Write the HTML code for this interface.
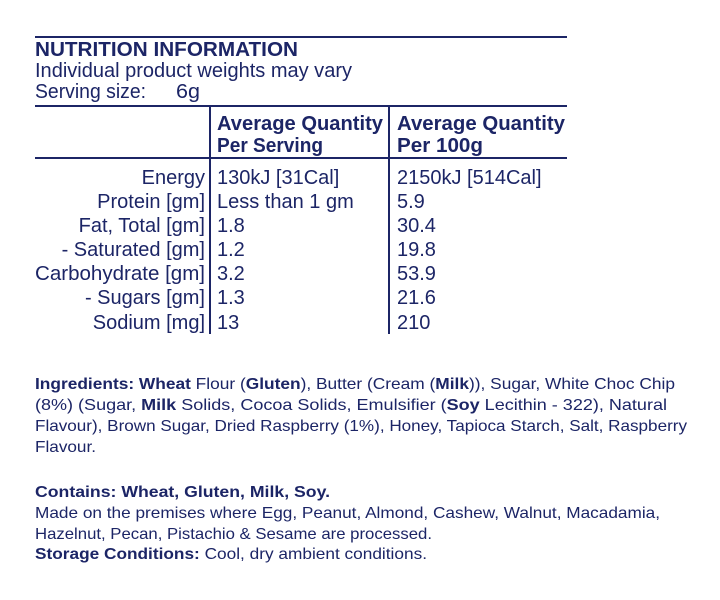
<!DOCTYPE html>
<html><head><meta charset="utf-8"><style>
html,body{margin:0;padding:0;background:#fff;}
svg{display:block;}
text{font-family:"Liberation Sans",sans-serif;fill:#1c2566;}
.b{font-weight:bold;}
</style></head><body>
<svg width="720" height="600" viewBox="0 0 720 600">
<g stroke="#1c2566" stroke-width="2">
<line x1="35" y1="37" x2="567" y2="37"/>
<line x1="35" y1="106" x2="567" y2="106"/>
<line x1="35" y1="158" x2="567" y2="158"/>
<line x1="210" y1="106" x2="210" y2="334"/>
<line x1="389" y1="106" x2="389" y2="334"/>
</g>
<g font-size="20">
<text class="b" x="35" y="56" textLength="263" lengthAdjust="spacingAndGlyphs">NUTRITION INFORMATION</text>
<text x="35" y="77" textLength="317" lengthAdjust="spacingAndGlyphs">Individual product weights may vary</text>
<text x="35" y="98" textLength="111" lengthAdjust="spacingAndGlyphs">Serving size:</text>
<text x="176" y="98" textLength="24" lengthAdjust="spacingAndGlyphs">6g</text>
<text class="b" x="217" y="130" textLength="166" lengthAdjust="spacingAndGlyphs">Average Quantity</text>
<text class="b" x="217" y="152" textLength="106" lengthAdjust="spacingAndGlyphs">Per Serving</text>
<text class="b" x="397" y="130" textLength="168" lengthAdjust="spacingAndGlyphs">Average Quantity</text>
<text class="b" x="397" y="152" textLength="86" lengthAdjust="spacingAndGlyphs">Per 100g</text>
<g text-anchor="end">
<text x="205" y="184">Energy</text>
<text x="205" y="208">Protein [gm]</text>
<text x="205" y="232">Fat, Total [gm]</text>
<text x="205" y="256">- Saturated [gm]</text>
<text x="205" y="280" textLength="170" lengthAdjust="spacingAndGlyphs">Carbohydrate [gm]</text>
<text x="205" y="304">- Sugars [gm]</text>
<text x="205" y="329">Sodium [mg]</text>
</g>
<text x="217" y="184">130kJ [31Cal]</text>
<text x="217" y="208">Less than 1 gm</text>
<text x="217" y="232">1.8</text>
<text x="217" y="256">1.2</text>
<text x="217" y="280">3.2</text>
<text x="217" y="304">1.3</text>
<text x="217" y="329">13</text>
<text x="397" y="184">2150kJ [514Cal]</text>
<text x="397" y="208">5.9</text>
<text x="397" y="232">30.4</text>
<text x="397" y="256">19.8</text>
<text x="397" y="280">53.9</text>
<text x="397" y="304">21.6</text>
<text x="397" y="329">210</text>
</g>
<g font-size="16">
<text x="35" y="389" textLength="640" lengthAdjust="spacingAndGlyphs"><tspan class="b">Ingredients: Wheat</tspan> Flour (<tspan class="b">Gluten</tspan>), Butter (Cream (<tspan class="b">Milk</tspan>)), Sugar, White Choc Chip</text>
<text x="35" y="410" textLength="632" lengthAdjust="spacingAndGlyphs">(8%) (Sugar, <tspan class="b">Milk</tspan> Solids, Cocoa Solids, Emulsifier (<tspan class="b">Soy</tspan> Lecithin - 322), Natural</text>
<text x="35" y="431" textLength="652" lengthAdjust="spacingAndGlyphs">Flavour), Brown Sugar, Dried Raspberry (1%), Honey, Tapioca Starch, Salt, Raspberry</text>
<text x="35" y="452" textLength="61" lengthAdjust="spacingAndGlyphs">Flavour.</text>
<text class="b" x="35" y="497" textLength="295" lengthAdjust="spacingAndGlyphs">Contains: Wheat, Gluten, Milk, Soy.</text>
<text x="35" y="518" textLength="625" lengthAdjust="spacingAndGlyphs">Made on the premises where Egg, Peanut, Almond, Cashew, Walnut, Macadamia,</text>
<text x="35" y="539" textLength="397" lengthAdjust="spacingAndGlyphs">Hazelnut, Pecan, Pistachio &amp; Sesame are processed.</text>
<text x="35" y="559" textLength="392" lengthAdjust="spacingAndGlyphs"><tspan class="b">Storage Conditions:</tspan> Cool, dry ambient conditions.</text>
</g>
</svg>
</body></html>
